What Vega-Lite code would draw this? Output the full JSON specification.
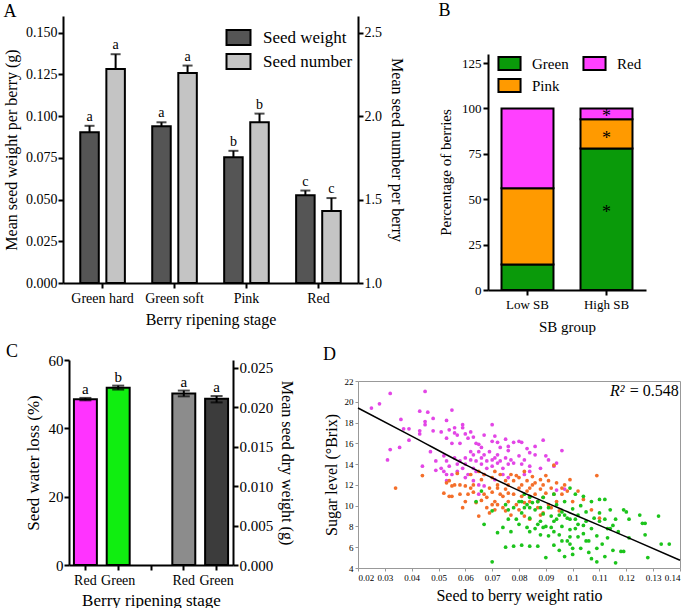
{
  "$schema": "https://vega.github.io/schema/vega-lite/v6.json",
  "padding": {"left": 3, "top": 2, "right": 0, "bottom": 0},
  "background": "white",
  "datasets": {
    "A": [
      {"stage": "Green hard", "series": "Seed weight", "value": 0.0903, "err": 0.0942, "letter": "a"},
      {"stage": "Green hard", "series": "Seed number", "value": 2.283, "err": 2.371, "letter": "a"},
      {"stage": "Green soft", "series": "Seed weight", "value": 0.094, "err": 0.0963, "letter": "a"},
      {"stage": "Green soft", "series": "Seed number", "value": 2.258, "err": 2.303, "letter": "a"},
      {"stage": "Pink", "series": "Seed weight", "value": 0.0753, "err": 0.0792, "letter": "b"},
      {"stage": "Pink", "series": "Seed number", "value": 1.964, "err": 2.015, "letter": "b"},
      {"stage": "Red", "series": "Seed weight", "value": 0.0526, "err": 0.0554, "letter": "c"},
      {"stage": "Red", "series": "Seed number", "value": 1.431, "err": 1.509, "letter": "c"}
    ],
    "B": [
      {"group": "Low SB", "berry": "Green", "pct": 14},
      {"group": "Low SB", "berry": "Pink", "pct": 42},
      {"group": "Low SB", "berry": "Red", "pct": 44},
      {"group": "High SB", "berry": "Green", "pct": 78},
      {"group": "High SB", "berry": "Pink", "pct": 16},
      {"group": "High SB", "berry": "Red", "pct": 6}
    ],
    "Bstar": [
      {"group": "High SB", "y": 45.4},
      {"group": "High SB", "y": 86},
      {"group": "High SB", "y": 98}
    ],
    "C": [
      {"bar": "Red", "metric": "loss", "value": 48.5, "lo": 48.2, "hi": 48.9, "letter": "a"},
      {"bar": "Green", "metric": "loss", "value": 51.9, "lo": 51.35, "hi": 52.5, "letter": "b"},
      {"bar": "Red2", "metric": "dry", "value": 0.02176, "lo": 0.02139, "hi": 0.02212, "letter": "a"},
      {"bar": "Green2", "metric": "dry", "value": 0.02107, "lo": 0.02062, "hi": 0.02143, "letter": "a"}
    ],
    "fit": [
      {"ratio": 0.02, "brix": 19.4}, {"ratio": 0.04, "brix": 16.7}, {"ratio": 0.06, "brix": 13.95},
      {"ratio": 0.08, "brix": 11.45}, {"ratio": 0.10, "brix": 9.2}, {"ratio": 0.12, "brix": 7.0}, {"ratio": 0.14, "brix": 4.75}
    ],
    "D": [
      {"c":"Red","r":0.025,"b":19.4},{"c":"Red","r":0.028,"b":19.8},{"c":"Red","r":0.032,"b":20.8},{"c":"Red","r":0.032,"b":15.4},{"c":"Red","r":0.031,"b":14.4},
      {"c":"Red","r":0.0355,"b":15.6},{"c":"Red","r":0.036,"b":18.3},{"c":"Red","r":0.037,"b":17.4},{"c":"Red","r":0.039,"b":17.4},{"c":"Red","r":0.039,"b":16.3},
      {"c":"Red","r":0.043,"b":19.1},{"c":"Red","r":0.043,"b":17.2},{"c":"Red","r":0.043,"b":16.9},{"c":"Red","r":0.044,"b":13.8},{"c":"Red","r":0.045,"b":17.8},
      {"c":"Red","r":0.045,"b":21.0},{"c":"Red","r":0.046,"b":19.0},{"c":"Red","r":0.045,"b":18.1},{"c":"Red","r":0.048,"b":18.4},{"c":"Red","r":0.048,"b":17.2},
      {"c":"Red","r":0.047,"b":15.2},{"c":"Red","r":0.049,"b":13.4},{"c":"Red","r":0.053,"b":18.2},{"c":"Red","r":0.051,"b":17.1},{"c":"Red","r":0.053,"b":16.5},
      {"c":"Red","r":0.055,"b":19.2},{"c":"Red","r":0.054,"b":17.3},{"c":"Red","r":0.056,"b":17.5},{"c":"Red","r":0.056,"b":17.0},{"c":"Red","r":0.055,"b":16.0},
      {"c":"Red","r":0.057,"b":16.8},{"c":"Red","r":0.059,"b":17.8},{"c":"Red","r":0.059,"b":17.5},{"c":"Red","r":0.060,"b":16.9},{"c":"Red","r":0.058,"b":16.0},
      {"c":"Red","r":0.061,"b":16.5},{"c":"Red","r":0.062,"b":17.1},{"c":"Red","r":0.063,"b":16.6},{"c":"Red","r":0.064,"b":16.0},{"c":"Red","r":0.065,"b":15.9},
      {"c":"Red","r":0.066,"b":15.6},{"c":"Red","r":0.067,"b":16.8},{"c":"Red","r":0.070,"b":17.8},{"c":"Red","r":0.070,"b":16.2},{"c":"Red","r":0.071,"b":16.7},
      {"c":"Red","r":0.072,"b":16.1},{"c":"Red","r":0.073,"b":15.6},{"c":"Red","r":0.075,"b":16.4},{"c":"Red","r":0.076,"b":15.7},{"c":"Red","r":0.076,"b":15.3},
      {"c":"Red","r":0.078,"b":16.1},{"c":"Red","r":0.080,"b":16.2},{"c":"Red","r":0.081,"b":16.1},{"c":"Red","r":0.083,"b":15.5},{"c":"Red","r":0.084,"b":15.1},
      {"c":"Red","r":0.086,"b":15.7},{"c":"Red","r":0.089,"b":16.3},{"c":"Red","r":0.086,"b":14.9},{"c":"Red","r":0.090,"b":14.8},{"c":"Red","r":0.091,"b":14.4},
      {"c":"Red","r":0.096,"b":15.3},{"c":"Red","r":0.094,"b":14.1},{"c":"Red","r":0.093,"b":13.8},{"c":"Red","r":0.052,"b":14.8},{"c":"Red","r":0.053,"b":14.3},
      {"c":"Red","r":0.054,"b":13.8},{"c":"Red","r":0.053,"b":13.0},{"c":"Red","r":0.053,"b":12.4},{"c":"Red","r":0.056,"b":14.6},{"c":"Red","r":0.057,"b":14.0},
      {"c":"Red","r":0.057,"b":13.3},{"c":"Red","r":0.058,"b":14.3},{"c":"Red","r":0.059,"b":13.6},{"c":"Red","r":0.060,"b":14.6},{"c":"Red","r":0.060,"b":14.0},
      {"c":"Red","r":0.061,"b":13.0},{"c":"Red","r":0.062,"b":15.2},{"c":"Red","r":0.062,"b":14.4},{"c":"Red","r":0.063,"b":13.6},{"c":"Red","r":0.063,"b":14.9},
      {"c":"Red","r":0.064,"b":14.3},{"c":"Red","r":0.064,"b":13.3},{"c":"Red","r":0.065,"b":15.2},{"c":"Red","r":0.066,"b":14.6},{"c":"Red","r":0.066,"b":14.0},
      {"c":"Red","r":0.067,"b":13.0},{"c":"Red","r":0.067,"b":14.9},{"c":"Red","r":0.068,"b":14.3},{"c":"Red","r":0.068,"b":13.6},{"c":"Red","r":0.069,"b":15.2},
      {"c":"Red","r":0.070,"b":14.4},{"c":"Red","r":0.070,"b":13.8},{"c":"Red","r":0.071,"b":14.6},{"c":"Red","r":0.072,"b":14.1},{"c":"Red","r":0.072,"b":14.9},
      {"c":"Red","r":0.073,"b":14.3},{"c":"Red","r":0.074,"b":13.6},{"c":"Red","r":0.075,"b":14.6},{"c":"Red","r":0.076,"b":14.0},{"c":"Red","r":0.077,"b":14.4},
      {"c":"Red","r":0.078,"b":14.1},{"c":"Red","r":0.080,"b":14.8},{"c":"Red","r":0.081,"b":14.0},{"c":"Red","r":0.082,"b":14.4},{"c":"Red","r":0.084,"b":13.8},
      {"c":"Red","r":0.065,"b":12.0},{"c":"Red","r":0.065,"b":11.1},{"c":"Red","r":0.067,"b":11.9},{"c":"Red","r":0.063,"b":12.4},{"c":"Red","r":0.060,"b":12.7},
      {"c":"Red","r":0.082,"b":13.0},{"c":"Red","r":0.084,"b":13.3},{"c":"Red","r":0.088,"b":13.6},{"c":"Red","r":0.071,"b":12.5},{"c":"Red","r":0.074,"b":13.0},
      {"c":"Red","r":0.076,"b":12.7},{"c":"Red","r":0.049,"b":14.3},{"c":"Red","r":0.051,"b":13.6},{"c":"Red","r":0.052,"b":13.3},{"c":"Red","r":0.055,"b":13.0},
      {"c":"Red","r":0.094,"b":11.5},{"c":"Red","r":0.097,"b":11.6},
      {"c":"Pink","r":0.034,"b":11.7},{"c":"Pink","r":0.044,"b":12.9},{"c":"Pink","r":0.052,"b":11.2},{"c":"Pink","r":0.054,"b":10.9},{"c":"Pink","r":0.055,"b":10.9},
      {"c":"Pink","r":0.054,"b":12.4},{"c":"Pink","r":0.053,"b":12.2},{"c":"Pink","r":0.057,"b":13.1},{"c":"Pink","r":0.058,"b":12.0},{"c":"Pink","r":0.059,"b":9.8},
      {"c":"Pink","r":0.060,"b":10.4},{"c":"Pink","r":0.061,"b":11.1},{"c":"Pink","r":0.062,"b":11.7},{"c":"Pink","r":0.064,"b":10.3},{"c":"Pink","r":0.065,"b":9.0},
      {"c":"Pink","r":0.063,"b":12.0},{"c":"Pink","r":0.066,"b":12.5},{"c":"Pink","r":0.067,"b":11.1},{"c":"Pink","r":0.068,"b":10.8},{"c":"Pink","r":0.069,"b":11.7},
      {"c":"Pink","r":0.070,"b":12.7},{"c":"Pink","r":0.070,"b":11.3},{"c":"Pink","r":0.071,"b":10.4},{"c":"Pink","r":0.072,"b":12.0},{"c":"Pink","r":0.072,"b":10.1},
      {"c":"Pink","r":0.073,"b":13.0},{"c":"Pink","r":0.073,"b":11.1},{"c":"Pink","r":0.074,"b":9.8},{"c":"Pink","r":0.075,"b":12.4},{"c":"Pink","r":0.075,"b":11.6},
      {"c":"Pink","r":0.076,"b":10.4},{"c":"Pink","r":0.076,"b":12.0},{"c":"Pink","r":0.077,"b":13.0},{"c":"Pink","r":0.078,"b":11.1},{"c":"Pink","r":0.078,"b":12.4},
      {"c":"Pink","r":0.079,"b":10.1},{"c":"Pink","r":0.080,"b":11.7},{"c":"Pink","r":0.080,"b":12.7},{"c":"Pink","r":0.081,"b":10.9},{"c":"Pink","r":0.081,"b":12.0},
      {"c":"Pink","r":0.082,"b":13.3},{"c":"Pink","r":0.083,"b":11.4},{"c":"Pink","r":0.083,"b":12.4},{"c":"Pink","r":0.084,"b":10.4},{"c":"Pink","r":0.084,"b":11.7},
      {"c":"Pink","r":0.085,"b":12.8},{"c":"Pink","r":0.086,"b":11.1},{"c":"Pink","r":0.086,"b":12.2},{"c":"Pink","r":0.087,"b":9.8},{"c":"Pink","r":0.088,"b":11.6},
      {"c":"Pink","r":0.088,"b":12.5},{"c":"Pink","r":0.089,"b":10.8},{"c":"Pink","r":0.089,"b":12.0},{"c":"Pink","r":0.090,"b":11.2},{"c":"Pink","r":0.091,"b":10.1},
      {"c":"Pink","r":0.091,"b":12.4},{"c":"Pink","r":0.092,"b":11.7},{"c":"Pink","r":0.093,"b":13.9},{"c":"Pink","r":0.093,"b":11.1},{"c":"Pink","r":0.094,"b":12.2},
      {"c":"Pink","r":0.094,"b":10.4},{"c":"Pink","r":0.096,"b":11.7},{"c":"Pink","r":0.096,"b":11.1},{"c":"Pink","r":0.097,"b":12.0},{"c":"Pink","r":0.098,"b":11.4},
      {"c":"Pink","r":0.099,"b":12.5},{"c":"Pink","r":0.100,"b":10.4},{"c":"Pink","r":0.102,"b":11.4},{"c":"Pink","r":0.104,"b":10.6},{"c":"Pink","r":0.109,"b":12.9},
      {"c":"Pink","r":0.110,"b":8.8},{"c":"Pink","r":0.107,"b":9.6},{"c":"Pink","r":0.067,"b":13.0},{"c":"Pink","r":0.065,"b":13.3},{"c":"Pink","r":0.062,"b":13.0},
      {"c":"Pink","r":0.060,"b":11.9},{"c":"Pink","r":0.058,"b":11.1},{"c":"Pink","r":0.056,"b":12.0},{"c":"Pink","r":0.055,"b":11.9},{"c":"Pink","r":0.070,"b":10.1},
      {"c":"Pink","r":0.068,"b":9.8},{"c":"Pink","r":0.069,"b":9.3},{"c":"Pink","r":0.071,"b":9.6},{"c":"Pink","r":0.075,"b":9.5},{"c":"Pink","r":0.077,"b":9.1},
      {"c":"Pink","r":0.080,"b":9.6},{"c":"Pink","r":0.082,"b":9.0},{"c":"Pink","r":0.084,"b":8.7},{"c":"Pink","r":0.088,"b":9.1},{"c":"Pink","r":0.089,"b":9.3},
      {"c":"Pink","r":0.074,"b":10.9},{"c":"Pink","r":0.076,"b":11.2},{"c":"Pink","r":0.082,"b":10.3},{"c":"Pink","r":0.084,"b":10.9},{"c":"Pink","r":0.087,"b":10.4},
      {"c":"Pink","r":0.092,"b":9.8},{"c":"Pink","r":0.095,"b":9.5},{"c":"Pink","r":0.072,"b":11.7},{"c":"Pink","r":0.079,"b":12.9},{"c":"Pink","r":0.085,"b":12.0},
      {"c":"Pink","r":0.090,"b":12.9},{"c":"Pink","r":0.071,"b":13.3},{"c":"Pink","r":0.066,"b":10.5},{"c":"Pink","r":0.063,"b":11.3},
      {"c":"Green","r":0.064,"b":10.4},{"c":"Green","r":0.066,"b":11.4},{"c":"Green","r":0.070,"b":9.5},{"c":"Green","r":0.067,"b":8.2},{"c":"Green","r":0.070,"b":4.6},
      {"c":"Green","r":0.072,"b":7.4},{"c":"Green","r":0.074,"b":7.9},{"c":"Green","r":0.075,"b":6.0},{"c":"Green","r":0.076,"b":9.6},{"c":"Green","r":0.077,"b":7.5},
      {"c":"Green","r":0.078,"b":6.1},{"c":"Green","r":0.079,"b":8.7},{"c":"Green","r":0.080,"b":10.4},{"c":"Green","r":0.080,"b":8.2},{"c":"Green","r":0.081,"b":9.3},
      {"c":"Green","r":0.081,"b":6.2},{"c":"Green","r":0.082,"b":11.1},{"c":"Green","r":0.083,"b":10.1},{"c":"Green","r":0.084,"b":8.8},{"c":"Green","r":0.084,"b":9.8},
      {"c":"Green","r":0.084,"b":7.5},{"c":"Green","r":0.084,"b":6.1},{"c":"Green","r":0.085,"b":10.3},{"c":"Green","r":0.086,"b":7.8},{"c":"Green","r":0.086,"b":9.6},
      {"c":"Green","r":0.087,"b":6.1},{"c":"Green","r":0.088,"b":8.5},{"c":"Green","r":0.088,"b":7.2},{"c":"Green","r":0.089,"b":10.8},{"c":"Green","r":0.089,"b":9.2},
      {"c":"Green","r":0.090,"b":5.0},{"c":"Green","r":0.090,"b":8.0},{"c":"Green","r":0.091,"b":9.8},{"c":"Green","r":0.091,"b":7.1},{"c":"Green","r":0.092,"b":9.0},
      {"c":"Green","r":0.093,"b":11.1},{"c":"Green","r":0.093,"b":7.5},{"c":"Green","r":0.093,"b":6.2},{"c":"Green","r":0.094,"b":10.1},{"c":"Green","r":0.094,"b":8.7},
      {"c":"Green","r":0.095,"b":5.7},{"c":"Green","r":0.095,"b":7.2},{"c":"Green","r":0.096,"b":9.4},{"c":"Green","r":0.096,"b":8.0},{"c":"Green","r":0.097,"b":5.1},
      {"c":"Green","r":0.097,"b":10.4},{"c":"Green","r":0.098,"b":6.6},{"c":"Green","r":0.098,"b":8.8},{"c":"Green","r":0.099,"b":7.7},{"c":"Green","r":0.099,"b":11.7},
      {"c":"Green","r":0.099,"b":6.3},{"c":"Green","r":0.100,"b":9.7},{"c":"Green","r":0.100,"b":5.3},{"c":"Green","r":0.101,"b":7.8},{"c":"Green","r":0.101,"b":11.1},
      {"c":"Green","r":0.102,"b":9.1},{"c":"Green","r":0.102,"b":7.0},{"c":"Green","r":0.103,"b":5.9},{"c":"Green","r":0.103,"b":10.0},{"c":"Green","r":0.104,"b":8.1},
      {"c":"Green","r":0.104,"b":10.9},{"c":"Green","r":0.105,"b":6.6},{"c":"Green","r":0.105,"b":9.4},{"c":"Green","r":0.106,"b":5.5},{"c":"Green","r":0.107,"b":7.8},
      {"c":"Green","r":0.107,"b":10.4},{"c":"Green","r":0.108,"b":8.8},{"c":"Green","r":0.109,"b":5.9},{"c":"Green","r":0.109,"b":4.6},{"c":"Green","r":0.109,"b":7.1},
      {"c":"Green","r":0.110,"b":10.6},{"c":"Green","r":0.110,"b":8.5},{"c":"Green","r":0.111,"b":6.3},{"c":"Green","r":0.112,"b":5.1},{"c":"Green","r":0.112,"b":10.6},
      {"c":"Green","r":0.113,"b":6.9},{"c":"Green","r":0.114,"b":9.6},{"c":"Green","r":0.114,"b":7.8},{"c":"Green","r":0.115,"b":5.7},{"c":"Green","r":0.116,"b":8.7},
      {"c":"Green","r":0.116,"b":4.5},{"c":"Green","r":0.117,"b":7.5},{"c":"Green","r":0.118,"b":5.6},{"c":"Green","r":0.119,"b":9.6},{"c":"Green","r":0.119,"b":5.6},
      {"c":"Green","r":0.120,"b":9.4},{"c":"Green","r":0.121,"b":8.7},{"c":"Green","r":0.121,"b":6.9},{"c":"Green","r":0.125,"b":9.1},{"c":"Green","r":0.126,"b":8.3},
      {"c":"Green","r":0.127,"b":8.3},{"c":"Green","r":0.127,"b":7.2},{"c":"Green","r":0.128,"b":5.0},{"c":"Green","r":0.132,"b":9.0},{"c":"Green","r":0.133,"b":6.3},
      {"c":"Green","r":0.136,"b":6.3},{"c":"Green","r":0.115,"b":8.1},{"c":"Green","r":0.113,"b":7.8},{"c":"Green","r":0.087,"b":8.2},{"c":"Green","r":0.089,"b":7.9},
      {"c":"Green","r":0.083,"b":7.9},{"c":"Green","r":0.081,"b":10.4},{"c":"Green","r":0.082,"b":9.8},{"c":"Green","r":0.084,"b":10.8},{"c":"Green","r":0.087,"b":10.4},
      {"c":"Green","r":0.088,"b":9.8},{"c":"Green","r":0.095,"b":9.1},{"c":"Green","r":0.097,"b":9.1},{"c":"Green","r":0.099,"b":8.7},{"c":"Green","r":0.101,"b":8.7},
      {"c":"Green","r":0.102,"b":8.2},{"c":"Green","r":0.105,"b":8.5},{"c":"Green","r":0.078,"b":9.8},{"c":"Green","r":0.076,"b":8.7},{"c":"Green","r":0.075,"b":10.1},
      {"c":"Green","r":0.092,"b":7.9},{"c":"Green","r":0.093,"b":8.5},{"c":"Green","r":0.096,"b":6.6},{"c":"Green","r":0.099,"b":7.0},{"c":"Green","r":0.100,"b":5.9},
      {"c":"Green","r":0.104,"b":7.3},{"c":"Green","r":0.106,"b":6.6},{"c":"Green","r":0.107,"b":4.9},{"c":"Green","r":0.110,"b":9.3},{"c":"Green","r":0.112,"b":8.7}
    ]
  },
  "columns": 2,
  "bounds": "flush",
  "spacing": {"row": 70, "column": 125},
  "resolve": {"scale": {"color": "independent"}},
  "concat": [
    {
      "title": {"text": "A", "offset": -5},
      "width": 300,
      "height": 267,
      "data": {"name": "A"},
      "encoding": {
        "x": {"field": "stage", "type": "nominal", "sort": ["Green hard", "Green soft", "Pink", "Red"],
          "scale": {"range": [0, 295], "paddingInner": 0.38, "paddingOuter": 0.24},
          "axis": {"title": "Berry ripening stage", "labelAngle": 0, "labelPadding": 3, "titlePadding": 6}},
        "xOffset": {"field": "series", "type": "nominal", "scale": {"domain": ["Seed weight", "Seed number"], "paddingInner": 0.29, "paddingOuter": 0}}
      },
      "layer": [
        {
          "transform": [{"filter": "datum.series == 'Seed weight'"}],
          "layer": [
            {"mark": {"type": "bar", "stroke": "black", "strokeWidth": 2},
              "encoding": {
                "y": {"field": "value", "type": "quantitative", "scale": {"domain": [0, 0.15]},
                  "axis": {"title": "Mean seed weight per berry (g)", "values": [0, 0.025, 0.05, 0.075, 0.1, 0.125, 0.15], "format": ".3f", "labelPadding": 1, "titlePadding": 6}},
                "color": {"field": "series", "type": "nominal", "scale": {"domain": ["Seed weight", "Seed number"], "range": ["#555555", "#c4c4c4"]},
                  "legend": {"orient": "none", "legendX": 167, "legendY": 13, "title": null, "symbolType": "M-1.6,-1H1.6V1H-1.6Z", "symbolSize": 225, "labelFontSize": 17, "labelOffset": 16, "rowPadding": 1, "symbolStrokeColor": "black", "symbolStrokeWidth": 2, "padding": 0}}
              }},
            {"mark": {"type": "rule", "strokeWidth": 2, "color": "black"},
              "encoding": {"y": {"field": "value", "type": "quantitative"}, "y2": {"field": "err"}}},
            {"mark": {"type": "tick", "thickness": 2, "size": 10, "color": "black"},
              "encoding": {"y": {"field": "err", "type": "quantitative"}}},
            {"mark": {"type": "text", "fontSize": 14, "dy": -5, "baseline": "alphabetic", "color": "black"},
              "encoding": {"y": {"field": "err", "type": "quantitative"}, "text": {"field": "letter"}}}
          ]
        },
        {
          "transform": [{"filter": "datum.series == 'Seed number'"}],
          "layer": [
            {"mark": {"type": "bar", "stroke": "black", "strokeWidth": 2},
              "encoding": {
                "y": {"field": "value", "type": "quantitative", "scale": {"domain": [1, 2.5], "zero": false},
                  "axis": {"orient": "right", "offset": -5, "title": "Mean seed number per berry", "values": [1, 1.5, 2, 2.5], "format": ".1f", "labelPadding": 1, "titlePadding": 7, "titleAngle": 90}},
                "y2": {"datum": 1},
                "color": {"field": "series", "type": "nominal", "scale": {"domain": ["Seed weight", "Seed number"], "range": ["#555555", "#c4c4c4"]},
                  "legend": {"orient": "none", "legendX": 167, "legendY": 13, "title": null, "symbolType": "M-1.6,-1H1.6V1H-1.6Z", "symbolSize": 225, "labelFontSize": 17, "labelOffset": 16, "rowPadding": 1, "symbolStrokeColor": "black", "symbolStrokeWidth": 2, "padding": 0}}
              }},
            {"mark": {"type": "rule", "strokeWidth": 2, "color": "black"},
              "encoding": {"y": {"field": "value", "type": "quantitative"}, "y2": {"field": "err"}}},
            {"mark": {"type": "tick", "thickness": 2, "size": 10, "color": "black"},
              "encoding": {"y": {"field": "err", "type": "quantitative"}}},
            {"mark": {"type": "text", "fontSize": 14, "dy": -5, "baseline": "alphabetic", "color": "black"},
              "encoding": {"y": {"field": "err", "type": "quantitative"}, "text": {"field": "letter"}}}
          ]
        }
      ],
      "resolve": {"scale": {"y": "independent"}}
    },
    {
      "title": {"text": "B", "offset": -4},
      "width": 158,
      "height": 274,
      "encoding": {
        "x": {"field": "group", "type": "nominal", "sort": ["Low SB", "High SB"],
          "scale": {"paddingInner": 0.342, "paddingOuter": 0.171},
          "axis": {"title": "SB group", "labelAngle": 0, "labelFontSize": 13, "titleFontSize": 15, "labelPadding": 3, "titlePadding": 8}}
      },
      "layer": [
        {"data": {"name": "B"},
          "mark": {"type": "bar", "stroke": "black", "strokeWidth": 2},
          "encoding": {
            "y": {"field": "pct", "type": "quantitative", "scale": {"domain": [0, 125], "range": [274, 38]},
              "axis": {"title": "Percentage of berries", "values": [0, 25, 50, 75, 100, 125], "labelFontSize": 13, "titleFontSize": 15, "labelPadding": 2, "titlePadding": 8}},
            "color": {"field": "berry", "type": "nominal", "scale": {"domain": ["Green", "Pink", "Red"], "range": ["#0a9a0a", "#ff9a00", "#ff40ff"]},
              "legend": {"orient": "none", "legendX": 14, "legendY": 40, "columns": 2, "columnPadding": 10, "title": null, "symbolType": "M-1.7,-1H1.7V1H-1.7Z", "symbolSize": 169, "labelFontSize": 15, "labelOffset": 15, "rowPadding": 1, "symbolStrokeColor": "black", "symbolStrokeWidth": 2, "padding": 0}},
            "order": {"field": "berry", "sort": "ascending"}
          }},
        {"data": {"name": "Bstar"},
          "mark": {"type": "text", "fontSize": 18, "dy": 5, "baseline": "middle", "color": "black"},
          "encoding": {"y": {"field": "y", "type": "quantitative", "stack": null}, "text": {"value": "*"}}}
      ]
    },
    {
      "title": {"text": "C", "offset": -8, "dx": -18},
      "width": 170,
      "height": 205,
      "data": {"name": "C"},
      "encoding": {
        "x": {"field": "bar", "type": "nominal",
          "scale": {"domain": ["Red", "Green", "gap", "Red2", "Green2"], "range": [6, 170], "paddingInner": 0.3, "paddingOuter": 0.15},
          "axis": {"title": "Berry ripening stage", "labelAngle": 0, "labelExpr": "datum.label == 'gap' ? '' : replace(datum.label, '2', '')", "labelFontSize": 14, "titleFontSize": 17, "labelPadding": 3, "titlePadding": 5}}
      },
      "layer": [
        {
          "transform": [{"filter": "datum.metric == 'loss'"}],
          "layer": [
            {"mark": {"type": "bar", "stroke": "black", "strokeWidth": 2},
              "encoding": {
                "y": {"field": "value", "type": "quantitative", "scale": {"domain": [0, 60]},
                  "axis": {"offset": -6, "title": "Seed water loss (%)", "values": [0, 10, 20, 30, 40, 50, 60], "labelFontSize": 15, "titleFontSize": 17, "labelPadding": 1, "titlePadding": 6}},
                "color": {"field": "bar", "type": "nominal", "scale": {"domain": ["Red", "Green", "Red2", "Green2"], "range": ["#ff33ff", "#10ee10", "#8c8c8c", "#3c3c3c"]}, "legend": null}
              }},
            {"mark": {"type": "rule", "strokeWidth": 2, "color": "black"},
              "encoding": {"y": {"field": "lo", "type": "quantitative"}, "y2": {"field": "hi"}}},
            {"mark": {"type": "tick", "thickness": 2, "size": 12, "color": "black"},
              "encoding": {"y": {"field": "lo", "type": "quantitative"}}},
            {"mark": {"type": "tick", "thickness": 2, "size": 12, "color": "black"},
              "encoding": {"y": {"field": "hi", "type": "quantitative"}}},
            {"mark": {"type": "text", "fontSize": 15, "dy": -4, "baseline": "alphabetic", "color": "black"},
              "encoding": {"y": {"field": "hi", "type": "quantitative"}, "text": {"field": "letter"}}}
          ]
        },
        {
          "transform": [{"filter": "datum.metric == 'dry'"}],
          "layer": [
            {"mark": {"type": "bar", "stroke": "black", "strokeWidth": 2},
              "encoding": {
                "y": {"field": "value", "type": "quantitative", "scale": {"domain": [0, 0.025]},
                  "axis": {"orient": "right", "title": "Mean seed dry weight (g)", "values": [0, 0.005, 0.01, 0.015, 0.02, 0.025], "format": ".3f", "labelFontSize": 15, "titleFontSize": 16, "labelPadding": 1, "titlePadding": 6, "titleAngle": 90}},
                "color": {"field": "bar", "type": "nominal", "scale": {"domain": ["Red", "Green", "Red2", "Green2"], "range": ["#ff33ff", "#10ee10", "#8c8c8c", "#3c3c3c"]}, "legend": null}
              }},
            {"mark": {"type": "rule", "strokeWidth": 2, "color": "black"},
              "encoding": {"y": {"field": "lo", "type": "quantitative"}, "y2": {"field": "hi"}}},
            {"mark": {"type": "tick", "thickness": 2, "size": 12, "color": "black"},
              "encoding": {"y": {"field": "lo", "type": "quantitative"}}},
            {"mark": {"type": "tick", "thickness": 2, "size": 12, "color": "black"},
              "encoding": {"y": {"field": "hi", "type": "quantitative"}}},
            {"mark": {"type": "text", "fontSize": 15, "dy": -4, "baseline": "alphabetic", "color": "black"},
              "encoding": {"y": {"field": "hi", "type": "quantitative"}, "text": {"field": "letter"}}}
          ]
        }
      ],
      "resolve": {"scale": {"y": "independent"}}
    },
    {
      "title": {"text": "D", "offset": -4},
      "width": 192,
      "height": 208,
      "layer": [
        {"data": {"name": "D"},
          "mark": {"type": "circle", "size": 14, "opacity": 1},
          "encoding": {
            "x": {"field": "r", "type": "quantitative", "scale": {"domain": [0.02, 0.14], "range": [-130, 192], "nice": false, "zero": false},
              "axis": {"title": "Seed to berry weight ratio", "values": [0.02, 0.03, 0.04, 0.05, 0.06, 0.07, 0.08, 0.09, 0.1, 0.11, 0.12, 0.13, 0.14], "format": ".2~f", "labelFontSize": 9, "titleFontSize": 16, "domainColor": "#999999", "domainWidth": 1, "tickColor": "#999999", "tickWidth": 1, "tickSize": 3, "labelPadding": 2, "titlePadding": 5}},
            "y": {"field": "b", "type": "quantitative", "scale": {"domain": [4, 22], "range": [208, 21], "nice": false, "zero": false},
              "axis": {"offset": 130, "title": "Sugar level (°Brix)", "values": [4, 6, 8, 10, 12, 14, 16, 18, 20, 22], "format": "d", "labelFontSize": 9, "titleFontSize": 16, "domainColor": "#999999", "domainWidth": 1, "tickColor": "#999999", "tickWidth": 1, "tickSize": 3, "labelPadding": 2, "titlePadding": 5}},
            "color": {"field": "c", "type": "nominal", "scale": {"domain": ["Red", "Pink", "Green"], "range": ["#e346e6", "#f46f2a", "#1cc41c"]}, "legend": null}
          }},
        {"data": {"name": "fit"},
          "mark": {"type": "line", "color": "black", "strokeWidth": 1.5, "interpolate": "monotone"},
          "encoding": {
            "x": {"field": "ratio", "type": "quantitative",
              "axis": {"orient": "top", "offset": -21, "title": null, "labels": false, "ticks": false, "domainColor": "#999999", "domainWidth": 1}},
            "y": {"field": "brix", "type": "quantitative",
              "axis": {"orient": "right", "title": null, "labels": false, "ticks": false, "domainColor": "#999999", "domainWidth": 1}}
          }},
        {"data": {"values": [{}]},
          "mark": {"type": "text", "text": "R²", "fontStyle": "italic", "fontSize": 16, "align": "right", "baseline": "middle", "dx": -54, "color": "black"},
          "encoding": {"x": {"datum": 0.1395, "axis": null}, "y": {"datum": 21.0, "axis": null}}},
        {"data": {"values": [{}]},
          "mark": {"type": "text", "text": "= 0.548", "fontSize": 16, "align": "right", "baseline": "middle", "color": "black"},
          "encoding": {"x": {"datum": 0.1395, "axis": null}, "y": {"datum": 21.0, "axis": null}}}
      ],
      "resolve": {"axis": {"x": "independent", "y": "independent"}}
    }
  ],
  "config": {
    "font": "Liberation Serif",
    "view": {"stroke": null},
    "title": {"fontSize": 18, "fontWeight": "normal", "anchor": "start", "frame": "bounds", "color": "black", "font": "Liberation Serif"},
    "axis": {"domainColor": "black", "domainWidth": 2, "tickColor": "black", "tickWidth": 2, "tickSize": 5, "labelColor": "black", "titleColor": "black", "labelFontSize": 14, "titleFontSize": 16, "titleFontWeight": "normal", "grid": false, "labelFont": "Liberation Serif", "titleFont": "Liberation Serif"},
    "legend": {"labelFont": "Liberation Serif", "labelColor": "black"}
  }
}
